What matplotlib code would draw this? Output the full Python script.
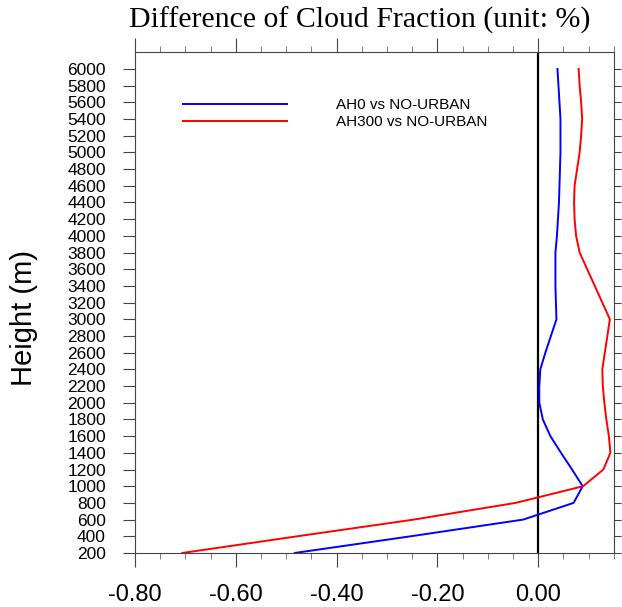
import matplotlib
matplotlib.use("Agg")
import matplotlib.pyplot as plt
from matplotlib.ticker import MultipleLocator, FixedLocator

# height levels (m) and cloud fraction differences (%)
heights = [200, 400, 600, 800, 1000, 1200, 1400, 1600, 1800, 2000,
           2200, 2400, 2600, 2800, 3000, 3200, 3400, 3600, 3800, 4000,
           4200, 4400, 4600, 4800, 5000, 5200, 5400, 5600, 5800, 6000]
ah0_diff = [-0.483, -0.253, -0.030, 0.070, 0.088, 0.067, 0.045, 0.024, 0.009, 0.002,
            0.002, 0.004, 0.014, 0.025, 0.036, 0.035, 0.034, 0.034, 0.034, 0.037,
            0.039, 0.041, 0.042, 0.043, 0.044, 0.044, 0.044, 0.042, 0.040, 0.038]
ah300_diff = [-0.706, -0.478, -0.247, -0.045, 0.089, 0.129, 0.143, 0.140, 0.135, 0.131,
              0.128, 0.127, 0.132, 0.137, 0.142, 0.127, 0.112, 0.097, 0.082, 0.075,
              0.072, 0.071, 0.072, 0.077, 0.082, 0.085, 0.087, 0.085, 0.082, 0.080]
series_names = ["AH0 vs NO-URBAN", "AH300 vs NO-URBAN"]
x_ticks = [-0.8, -0.6, -0.4, -0.2, 0.0]
x_ticklabels = ["-0.80", "-0.60", "-0.40", "-0.20", "0.00"]
y_ticks = list(range(200, 6001, 200))

plt.rcParams['font.family'] = ['Liberation Sans', 'DejaVu Sans']

fig = plt.figure(figsize=(6.22, 6.07), dpi=100)
ax = fig.add_axes([0.217, 0.089, 0.770, 0.825])

ax.axvline(0.0, color="black", lw=1.6, zorder=1)
ax.plot(ah0_diff, heights, color="#0000ff", lw=1.4, label=series_names[0], zorder=2)
ax.plot(ah300_diff, heights, color="#ff0000", lw=1.4, label=series_names[1], zorder=2)

ax.set_xlim(-0.8, 0.15)
ax.set_ylim(200, 6200)

ax.xaxis.set_major_locator(FixedLocator(x_ticks))
ax.set_xticklabels(x_ticklabels, fontsize=17)
ax.xaxis.set_minor_locator(MultipleLocator(0.05))
ax.yaxis.set_major_locator(FixedLocator(y_ticks))
ax.set_yticklabels([str(h) for h in y_ticks], fontsize=12.5)

ax.tick_params(axis="x", which="major", direction="out", length=10, width=0.8,
               pad=12, top=True, color="#444444")
ax.tick_params(axis="x", which="minor", direction="out", length=4, width=0.6,
               top=True, color="#666666")
ax.tick_params(axis="y", which="major", direction="out", length=9, width=0.8,
               pad=12, right=True, color="#444444")

# right-hand ticks are shorter than the left ones
for tick in ax.yaxis.get_major_ticks():
    tick.tick2line.set_markersize(5)

for side in ax.spines.values():
    side.set_linewidth(0.8)
    side.set_color("#444444")

ax.set_ylabel("Height (m)", fontsize=21)
ax.yaxis.set_label_coords(-0.203, 0.47)

ax.legend(loc="upper left", bbox_to_anchor=(0.1, 0.908), frameon=False,
          fontsize=11, handlelength=6.8, handletextpad=3.2, labelspacing=0.2,
          borderpad=0, borderaxespad=0)

fig.text(0.579, 0.967, "Difference of Cloud Fraction (unit: %)",
         family="Liberation Serif", fontsize=21.5, ha="center", va="center")

fig.savefig("out.png", dpi=100)
